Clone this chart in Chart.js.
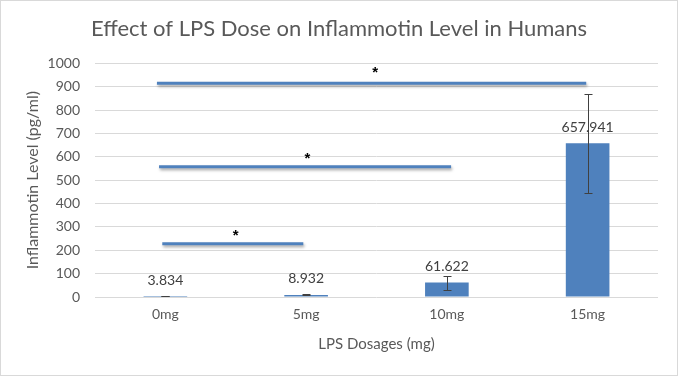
<!DOCTYPE html>
<html>
<head>
<meta charset="utf-8">
<script src="https://cdn.jsdelivr.net/npm/chart.js@4"></script>
<style>
html,body{margin:0;padding:0;background:#fff;}
#wrap{position:relative;width:678px;height:376px;}
</style>
</head>
<body>
<div id="wrap"><canvas id="c" width="678" height="376"></canvas></div>
<script>
// ---- data ----
const categories = ["0mg", "5mg", "10mg", "15mg"];
const inflammotin = [3.834, 8.932, 61.622, 657.941];
const errorPlus = [1, 2, 30, 213];
const errorMinus = [1, 2, 30, 211];
const yTicks = [0, 100, 200, 300, 400, 500, 600, 700, 800, 900, 1000];
// significance brackets (x in category-index units, y in pg/ml)
const sigStart = [-0.06, -0.045, -0.022];
const sigEnd = [2.99, 2.03, 0.98];
const sigLevel = [915, 558, 228];
const starX = [1.49, 1.01, 0.50];
const starLevel = [983, 614, 282];
const starText = ["*", "*", "*"];

const FONT = "Lato, 'Open Sans', sans-serif";
const BLUE = "#4f81bd";

const extras = {
  id: "extras",
  afterDatasetsDraw(chart) {
    const ctx = chart.ctx;
    const y = chart.scales.y;
    const x = chart.scales.x;
    const meta = chart.getDatasetMeta(0);
    // significance lines
    ctx.save();
    ctx.strokeStyle = BLUE;
    ctx.lineWidth = 3;
    ctx.lineCap = "butt";
    ctx.shadowColor = "rgba(0,0,0,0.35)";
    ctx.shadowOffsetX = 1;
    ctx.shadowOffsetY = 2;
    ctx.shadowBlur = 3;
    sigStart.forEach((s, i) => {
      const py = y.getPixelForValue(sigLevel[i]);
      ctx.beginPath();
      ctx.moveTo(x.getPixelForValue(s), py);
      ctx.lineTo(x.getPixelForValue(sigEnd[i]), py);
      ctx.stroke();
    });
    ctx.restore();
    // error bars
    ctx.save();
    ctx.strokeStyle = "#404040";
    ctx.lineWidth = 1;
    meta.data.forEach((bar, i) => {
      const v = inflammotin[i];
      const top = Math.round(y.getPixelForValue(v + errorPlus[i])) + 0.5;
      const bot = Math.round(y.getPixelForValue(v - errorMinus[i])) + 0.5;
      const cx = Math.round(bar.x) + 0.5;
      ctx.beginPath();
      ctx.moveTo(cx, top); ctx.lineTo(cx, bot);
      ctx.moveTo(cx - 4, top); ctx.lineTo(cx + 4, top);
      ctx.moveTo(cx - 4, bot); ctx.lineTo(cx + 4, bot);
      ctx.stroke();
    });
    // data labels
    ctx.fillStyle = "#404040";
    ctx.font = "14px " + FONT;
    ctx.textAlign = "center";
    ctx.textBaseline = "middle";
    meta.data.forEach((bar, i) => {
      ctx.fillText(inflammotin[i].toFixed(3), bar.x, bar.y - 16);
    });
    // asterisks
    ctx.fillStyle = "#000";
    ctx.font = "bold 15px 'Liberation Sans', sans-serif";
    starX.forEach((sx, i) => {
      ctx.fillText(starText[i], x.getPixelForValue(sx), y.getPixelForValue(starLevel[i]) + 5);
    });
    ctx.restore();
  },
  afterDraw(chart) {
    const ctx = chart.ctx;
    ctx.save();
    ctx.strokeStyle = "#d9d9d9";
    ctx.lineWidth = 1;
    ctx.strokeRect(0.5, 0.5, chart.width - 1, chart.height - 1);
    ctx.restore();
  }
};

new Chart(document.getElementById("c"), {
  type: "bar",
  data: {
    labels: categories,
    datasets: [
      {
        data: inflammotin,
        backgroundColor: BLUE,
        borderWidth: 0,
        categoryPercentage: 1,
        barPercentage: 0.31
      }
    ]
  },
  options: {
    responsive: false,
    animation: false,
    devicePixelRatio: 1,
    layout: {padding: {left: 0, right: 0, top: 0, bottom: 0}},
    plugins: {
      legend: {display: false},
      tooltip: {enabled: false},
      title: {
        display: true,
        text: "Effect of LPS Dose on Inflammotin Level in Humans",
        color: "#595959",
        font: {family: FONT, size: 22, weight: "normal"},
        padding: {top: 16, bottom: 21}
      }
    },
    scales: {
      x: {
        type: "category",
        offset: true,
        grid: {display: false},
        border: {display: false},
        ticks: {color: "#595959", font: {family: FONT, size: 14}, padding: 1},
        title: {
          display: true,
          text: "LPS Dosages (mg)",
          color: "#595959",
          font: {family: FONT, size: 15},
          padding: {top: 0, bottom: 23}
        },
        afterFit(s) { s.height = 79; }
      },
      y: {
        type: "linear",
        min: 0,
        max: 1000,
        afterBuildTicks(s) { s.ticks = yTicks.map(v => ({value: v})); },
        grid: {color: "#d9d9d9", drawTicks: false},
        border: {display: false},
        ticks: {color: "#595959", font: {family: FONT, size: 14}, padding: 15,
          callback: (v) => String(v)},
        title: {
          display: true,
          text: "Inflammotin Level (pg/ml)",
          color: "#595959",
          font: {family: FONT, size: 16},
          padding: {top: 23, bottom: 0}
        },
        afterFit(s) { s.width = 95; }
      },
      yRight: {
        type: "linear",
        position: "right",
        min: 0,
        max: 1000,
        grid: {display: false, drawTicks: false},
        border: {display: false},
        ticks: {display: false},
        afterFit(s) { s.width = 20; }
      }
    }
  },
  plugins: [extras]
});
</script>
</body>
</html>
